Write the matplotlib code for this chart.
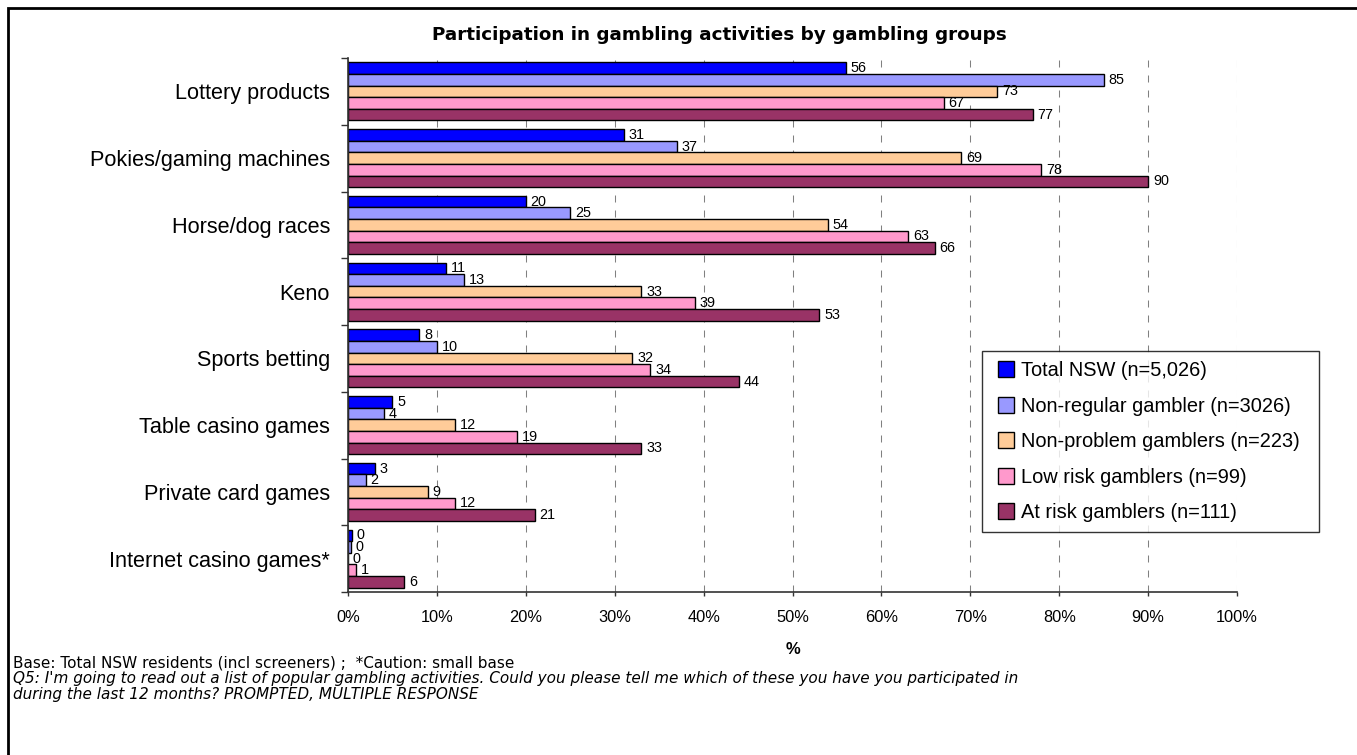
import matplotlib
matplotlib.use("Agg")
import matplotlib.pyplot as plt
from matplotlib.patches import Patch, Rectangle
from matplotlib.legend_handler import HandlerPatch
import numpy as np

plt.rcParams['font.family'] = ['Liberation Sans', 'DejaVu Sans']

# ---- data ----
activities = [
    "Lottery products",
    "Pokies/gaming machines",
    "Horse/dog races",
    "Keno",
    "Sports betting",
    "Table casino games",
    "Private card games",
    "Internet casino games*",
]
groups = [
    "Total NSW (n=5,026)",
    "Non-regular gambler (n=3026)",
    "Non-problem gamblers (n=223)",
    "Low risk gamblers (n=99)",
    "At risk gamblers (n=111)",
]
total_nsw = [56, 31, 20, 11, 8, 5, 3, 0.4]
non_regular = [85, 37, 25, 13, 10, 4, 2, 0.3]
non_problem = [73, 69, 54, 33, 32, 12, 9, 0]
low_risk = [67, 78, 63, 39, 34, 19, 12, 0.9]
at_risk = [77, 90, 66, 53, 44, 33, 21, 6.3]
x_ticks = list(range(0, 101, 10))

series = [total_nsw, non_regular, non_problem, low_risk, at_risk]
colors = ["#0000FF", "#9999FF", "#FFCC99", "#FF99CC", "#993366"]

title = "Participation in gambling activities by gambling groups"
base_note = "Base: Total NSW residents (incl screeners) ;  *Caution: small base"
question_lines = [
    "Q5: I'm going to read out a list of popular gambling activities. Could you please tell me which of these you have you participated in",
    "during the last 12 months? PROMPTED, MULTIPLE RESPONSE",
]

# ---- figure ----
W, H = 1357, 755
fig = plt.figure(figsize=(W / 100, H / 100), dpi=100)
fig.patch.set_facecolor("white")
ax = fig.add_axes([348 / W, 1 - 592 / H, 889 / W, 534 / H])

n_cat = len(activities)
bar_h = 0.174
centers = np.arange(n_cat) + 0.5

for j, (vals, col, lab) in enumerate(zip(series, colors, groups)):
    ypos = centers + (j - (len(series) - 1) / 2) * bar_h
    ax.barh(ypos, vals, height=bar_h, color=col, edgecolor="black",
            linewidth=1.0, label=lab, zorder=3)
    for yy, v in zip(ypos, vals):
        ax.annotate(f"{v:.0f}", xy=(v, yy), xytext=(3.5, 0),
                    textcoords="offset points", ha="left", va="center",
                    fontsize=10.4, zorder=4)

ax.set_xlim(0, 100)
ax.set_ylim(n_cat, 0)

# x axis
ax.set_xticks(x_ticks)
ax.set_xticklabels([f"{t}%" for t in x_ticks], fontsize=11.8)
ax.tick_params(axis="x", direction="out", length=3, width=1, color="#333333", pad=10)

# y axis: labels at category centres, tick marks at category boundaries
ax.set_yticks(centers)
ax.set_yticklabels(activities, fontsize=15.6)
ax.set_yticks(np.arange(0, n_cat + 1), minor=True)
ax.tick_params(axis="y", which="major", length=0, pad=13)
ax.tick_params(axis="y", which="minor", direction="out", length=5, width=1, color="#333333")

for side in ("top", "right"):
    ax.spines[side].set_visible(False)
for side in ("left", "bottom"):
    ax.spines[side].set_color("#333333")
    ax.spines[side].set_linewidth(1.2)
    ax.spines[side].set_zorder(5)

ax.xaxis.grid(True, color="#808080", linewidth=0.75, linestyle=(0, (6.7, 7.7)), zorder=0)
ax.set_axisbelow(True)


# legend: small square swatches set in from the frame edge
def square_swatch(legend, orig_handle, xdescent, ydescent, width, height, fontsize):
    side = 11.5
    return Rectangle((-xdescent + width - side, -ydescent + (height - side) / 2),
                     side, side)


handles = [Patch(facecolor=c, edgecolor="black", linewidth=1.0) for c in colors]
leg = ax.legend(handles, groups, loc="upper left",
                bbox_to_anchor=(982 / W, 1 - 533 / H, 337 / W, 182 / H),
                bbox_transform=fig.transFigure, mode="expand",
                borderaxespad=0, borderpad=0.52, labelspacing=0.82,
                handlelength=1.1, handleheight=0.6, handletextpad=0.35,
                handler_map={Patch: HandlerPatch(patch_func=square_swatch)},
                fontsize=14.4, frameon=True, fancybox=False, shadow=False)
leg.get_frame().set_edgecolor("black")
leg.get_frame().set_linewidth(1.0)
leg.set_zorder(6)

# texts
fig.text(719 / W, 1 - 35 / H, title, ha="center", va="center",
         fontsize=13.2, fontweight="bold", family="DejaVu Sans")
fig.text(793 / W, 1 - 650 / H, "%", ha="center", va="center",
         fontsize=12, fontweight="bold")
fig.text(13 / W, 1 - 663 / H, base_note, ha="left", va="center",
         fontsize=11, family="DejaVu Sans")
for k, line in enumerate(question_lines):
    fig.text(13 / W, 1 - (679 + 16 * k) / H, line, ha="left", va="center",
             fontsize=11, style="italic", family="DejaVu Sans")

# outer frame
fig.patches.append(Rectangle((8 / W, -0.2), 1.5, 1.2 - 8 / H,
                             transform=fig.transFigure, fill=False,
                             edgecolor="black", linewidth=2.0))

fig.savefig("out.png", dpi=100)
